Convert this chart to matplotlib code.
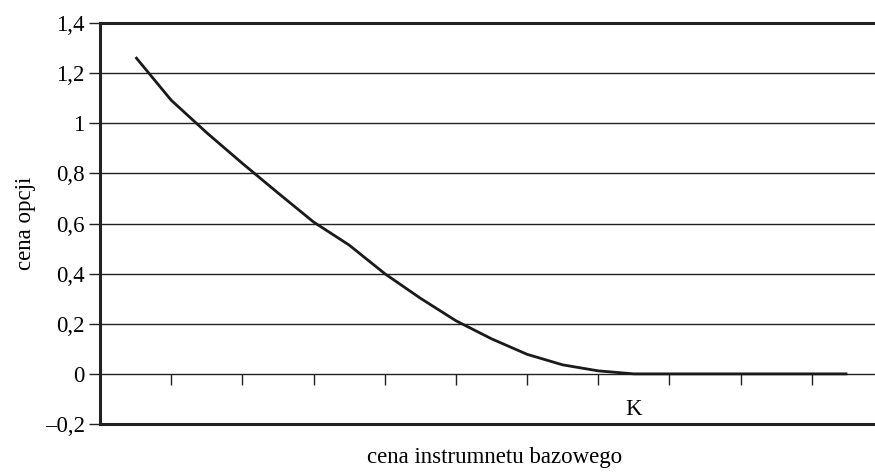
import numpy as np
import matplotlib.pyplot as plt
from matplotlib.ticker import FixedLocator

plt.rcParams['font.family'] = ['Liberation Serif', 'DejaVu Serif']

# cena opcji dla kolejnych poziomów ceny instrumentu bazowego (K = indeks 14)
cena_opcji = [1.264, 1.092, 0.962, 0.840, 0.722, 0.606, 0.514, 0.400, 0.302,
              0.212, 0.140, 0.078, 0.036, 0.012, 0.0, 0.0, 0.0, 0.0, 0.0, 0.0, 0.0]
k_index = 14
y_ticks = [-0.2, 0, 0.2, 0.4, 0.6, 0.8, 1, 1.2, 1.4]
y_labels = ['–0,2', '0', '0,2', '0,4', '0,6', '0,8', '1', '1,2', '1,4']

x = np.arange(len(cena_opcji))
fs = 16.5

fig = plt.figure(figsize=(8.75, 4.74), dpi=100)
# oś wychodzi poza prawą krawędź rysunku
ax = fig.add_axes([100 / 875, 50 / 474, 783 / 875, 401 / 474])

ax.set_xlim(-1, 21)
ax.set_ylim(-0.2, 1.4)

# siatka pozioma
for v in y_ticks[2:-1]:
    ax.axhline(v, color='#222222', lw=1.0, zorder=1)
ax.axhline(-0.2, color='#222222', lw=2.2, zorder=3, clip_on=False)

ax.plot(x, cena_opcji, color='#1a1a1a', lw=2.0, zorder=4, solid_capstyle='butt')

# oś X przecina się w zerze
ax.spines['bottom'].set_position(('data', 0))
ax.spines['bottom'].set_linewidth(1.0)
ax.spines['bottom'].set_color('#222222')
ax.spines['left'].set_linewidth(2.2)
ax.spines['left'].set_color('#222222')
ax.spines['top'].set_linewidth(2.2)
ax.spines['top'].set_color('#222222')
ax.spines['right'].set_visible(False)

ax.set_yticks(y_ticks)
ax.set_yticklabels(y_labels, fontsize=fs)
ax.tick_params(axis='y', length=8, width=1, color='#222222', pad=3)

ax.xaxis.set_minor_locator(FixedLocator(np.arange(1, 22, 2)))
ax.set_xticks([k_index])
ax.set_xticklabels(['K'], fontsize=fs)
ax.tick_params(axis='x', which='major', length=0, pad=18)
ax.tick_params(axis='x', which='minor', length=8, width=1, color='#222222')

ax.set_ylabel('cena opcji', fontsize=fs, labelpad=6)
fig.text(495 / 875, 1 - 458 / 474, 'cena instrumnetu bazowego', fontsize=fs,
         ha='center', va='center')

fig.savefig('out.png', dpi=100, facecolor='white')
